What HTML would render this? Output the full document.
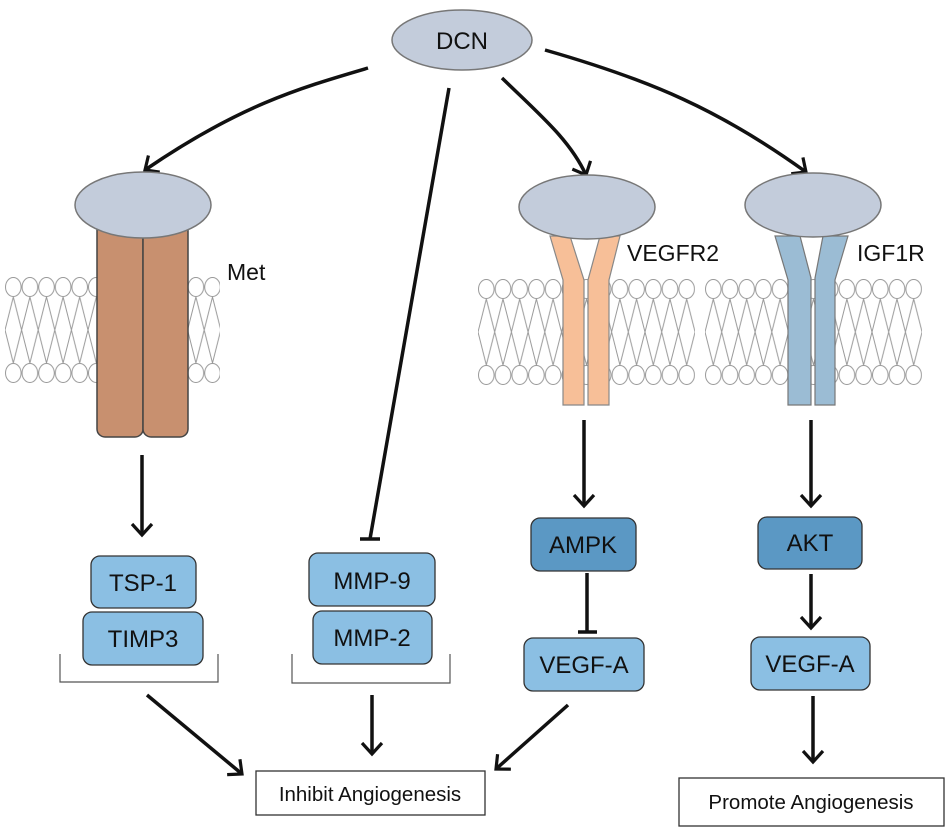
<!DOCTYPE html>
<html><head><meta charset="utf-8"><style>
html,body{margin:0;padding:0;background:#fff;}
svg{display:block;}
text{font-family:"Liberation Sans",Arial,sans-serif;fill:#111;}
</style></head><body>
<svg width="950" height="827" viewBox="0 0 950 827" xmlns="http://www.w3.org/2000/svg">
<defs>
<pattern id="lip1" patternUnits="userSpaceOnUse" x="5" y="277" width="16.6" height="106">
 <g fill="#fff" stroke="#999" stroke-width="1">
  <path d="M8.3 20 L0 53 M8.3 20 L16.6 53 M8.3 86 L0 53 M8.3 86 L16.6 53" fill="none"/>
  <ellipse cx="8.3" cy="10" rx="7.8" ry="9.5"/>
  <ellipse cx="8.3" cy="96" rx="7.8" ry="9.5"/>
 </g>
</pattern>
<pattern id="lip2" patternUnits="userSpaceOnUse" x="478" y="279" width="16.7" height="106">
 <g fill="#fff" stroke="#999" stroke-width="1">
  <path d="M8.3 20 L0 53 M8.3 20 L16.7 53 M8.3 86 L0 53 M8.3 86 L16.7 53" fill="none"/>
  <ellipse cx="8.3" cy="10" rx="7.8" ry="9.5"/>
  <ellipse cx="8.3" cy="96" rx="7.8" ry="9.5"/>
 </g>
</pattern>
<pattern id="lip3" patternUnits="userSpaceOnUse" x="705" y="279" width="16.7" height="106">
 <g fill="#fff" stroke="#999" stroke-width="1">
  <path d="M8.3 20 L0 53 M8.3 20 L16.7 53 M8.3 86 L0 53 M8.3 86 L16.7 53" fill="none"/>
  <ellipse cx="8.3" cy="10" rx="7.8" ry="9.5"/>
  <ellipse cx="8.3" cy="96" rx="7.8" ry="9.5"/>
 </g>
</pattern>
<marker id="ah" markerWidth="26" markerHeight="26" refX="13" refY="12" orient="auto" markerUnits="userSpaceOnUse">
 <path d="M2 2 L13 12 L2 22" fill="none" stroke="#111" stroke-width="3.2"/>
</marker>
</defs>

<rect x="5" y="277" width="215" height="106" fill="url(#lip1)"/>
<rect x="478" y="279" width="217" height="106" fill="url(#lip2)"/>
<rect x="705" y="279" width="217" height="106" fill="url(#lip3)"/>

<ellipse cx="462" cy="40" rx="70" ry="30" fill="#c3ccdb" stroke="#777" stroke-width="1.5"/>
<text x="462" y="49" font-size="24" text-anchor="middle">DCN</text>

<g fill="none" stroke="#111" stroke-width="3.5">
 <path d="M368 68 C300 88 240 105 145 170" marker-end="url(#ah)"/>
 <path d="M502 78 C540 115 570 140 586 175" marker-end="url(#ah)"/>
 <path d="M545 50 C650 80 720 110 806 172" marker-end="url(#ah)"/>
 <path d="M449 88 L370 539"/>
 <path d="M360 539 L380 539"/>
</g>

<rect x="97" y="190" width="46" height="247" rx="8" fill="#c8906f" stroke="#444" stroke-width="1.5"/>
<rect x="143" y="190" width="45" height="247" rx="8" fill="#c8906f" stroke="#444" stroke-width="1.5"/>
<ellipse cx="143" cy="205" rx="68" ry="33" fill="#c3ccdb" stroke="#777" stroke-width="1.5"/>
<text x="227" y="280" font-size="23">Met</text>

<g fill="#f7bf98" stroke="#888" stroke-width="1.2">
 <path d="M550 236 L570 236 L584 280 L584 405 L563 405 L563 280 Z"/>
 <path d="M620 236 L600 236 L588 280 L588 405 L609 405 L609 280 Z"/>
</g>
<ellipse cx="587" cy="207" rx="68" ry="32" fill="#c3ccdb" stroke="#777" stroke-width="1.5"/>
<text x="627" y="261" font-size="23">VEGFR2</text>

<g fill="#9bbcd4" stroke="#777" stroke-width="1.2">
 <path d="M775 236 L800 236 L811 278 L811 405 L788 405 L788 280 Z"/>
 <path d="M848 236 L823 236 L815 278 L815 405 L835 405 L835 280 Z"/>
</g>
<ellipse cx="813" cy="205" rx="68" ry="32" fill="#c3ccdb" stroke="#777" stroke-width="1.5"/>
<text x="857" y="261" font-size="23">IGF1R</text>

<g fill="none" stroke="#111" stroke-width="3.5">
 <path d="M142 455 L142 535" marker-end="url(#ah)"/>
 <path d="M584 420 L584 506" marker-end="url(#ah)"/>
 <path d="M811 420 L811 506" marker-end="url(#ah)"/>
 <path d="M587 573 L587 632 M578 632 L597 632"/>
 <path d="M811 574 L811 628" marker-end="url(#ah)"/>
 <path d="M813 696 L813 762" marker-end="url(#ah)"/>
 <path d="M372 695 L372 754" marker-end="url(#ah)"/>
 <path d="M147 695 L242 774" marker-end="url(#ah)"/>
 <path d="M568 705 L496 769" marker-end="url(#ah)"/>
</g>

<path d="M60 654 L60 682 L218 682 L218 654" fill="none" stroke="#555" stroke-width="1.2"/>
<path d="M292 654 L292 683 L450 683 L450 654" fill="none" stroke="#555" stroke-width="1.2"/>

<g stroke="#333" stroke-width="1.3">
 <rect x="91" y="556" width="105" height="52" rx="9" fill="#8bbfe3"/>
 <rect x="83" y="612" width="120" height="53" rx="9" fill="#8bbfe3"/>
 <rect x="309" y="553" width="126" height="53" rx="9" fill="#8bbfe3"/>
 <rect x="313" y="611" width="119" height="53" rx="9" fill="#8bbfe3"/>
 <rect x="531" y="518" width="105" height="53" rx="9" fill="#5b98c4"/>
 <rect x="524" y="638" width="120" height="53" rx="9" fill="#8bbfe3"/>
 <rect x="758" y="517" width="104" height="52" rx="9" fill="#5b98c4"/>
 <rect x="751" y="637" width="119" height="53" rx="9" fill="#8bbfe3"/>
</g>
<g font-size="24" text-anchor="middle">
 <text x="143" y="591">TSP-1</text>
 <text x="143" y="647">TIMP3</text>
 <text x="372" y="589">MMP-9</text>
 <text x="372" y="646">MMP-2</text>
 <text x="583" y="553">AMPK</text>
 <text x="584" y="673">VEGF-A</text>
 <text x="810" y="551">AKT</text>
 <text x="810" y="672">VEGF-A</text>
</g>

<rect x="256" y="771" width="229" height="44" fill="#fff" stroke="#333" stroke-width="1.3"/>
<text x="370" y="801" font-size="20.5" text-anchor="middle">Inhibit Angiogenesis</text>
<rect x="679" y="778" width="265" height="48" fill="#fff" stroke="#333" stroke-width="1.3"/>
<text x="811" y="809" font-size="20.5" text-anchor="middle">Promote Angiogenesis</text>
</svg>
</body></html>
